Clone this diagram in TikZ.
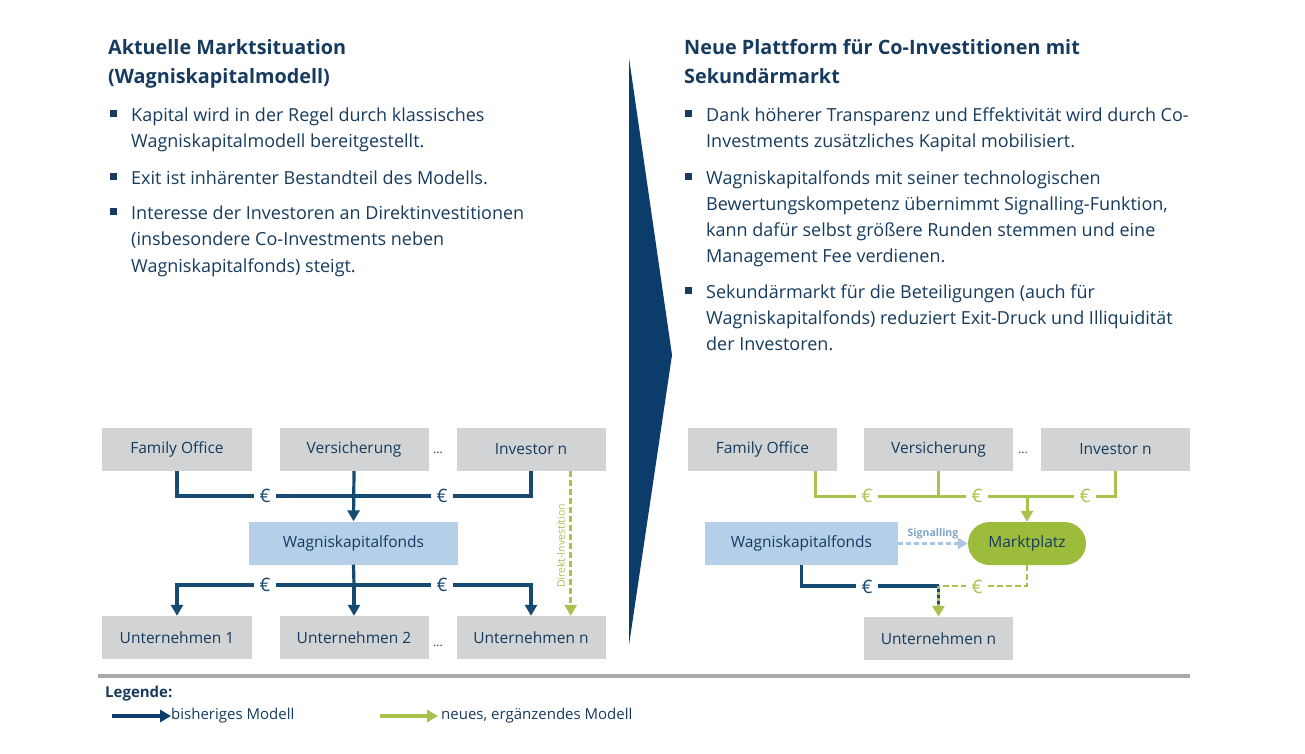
\documentclass[tikz,border=0pt]{standalone}
\usepackage{fontspec}
\setmainfont{Open Sans}
\usetikzlibrary{arrows.meta,calc}
\definecolor{navy}{HTML}{0B3C6B}
\definecolor{txt}{HTML}{163B5E}
\definecolor{boxgray}{HTML}{D1D3D4}
\definecolor{lblue}{HTML}{B4CFE7}
\definecolor{lgreen}{HTML}{A9C24E}
\definecolor{mgreen}{HTML}{9DBC3C}
\definecolor{sigblue}{HTML}{A9C6E2}
\definecolor{sigtxt}{HTML}{7FA4C8}
\definecolor{sepgray}{HTML}{A7A9AB}
\definecolor{linenavy}{HTML}{174A70}
\tikzset{
  box/.style={fill=boxgray, minimum width=149pt, minimum height=43pt, inner sep=0pt,
    font=\fontsize{15.5}{18}\selectfont, text=txt},
  fondbox/.style={fill=lblue, minimum height=43pt, inner sep=0pt,
    font=\fontsize{15.5}{18}\selectfont, text=txt},
  conn/.style={draw=linenavy, line width=3.2pt},
  gconn/.style={draw=lgreen, line width=3pt},
  gdash/.style={draw=lgreen, line width=2.6pt, dash pattern=on 6pt off 3pt},
  arr/.style={-{Triangle[width=12pt,length=11pt]}},
  eur/.style={fill=white, inner xsep=6pt, inner ysep=1pt, font=\fontsize{18.5}{20}\selectfont, text=linenavy},
  geur/.style={eur, text=lgreen},
  titletxt/.style={anchor=base west, inner sep=0pt, font=\fontsize{19.8}{24}\bfseries\selectfont, text=txt},
  bodytxt/.style={anchor=base west, inner sep=0pt, font=\fontsize{18}{22}\selectfont, text=txt},
  bul/.style={fill=txt, minimum size=7pt, inner sep=0pt},
  dotstxt/.style={inner sep=0pt, font=\fontsize{12}{14}\selectfont, text=txt},
}
\begin{document}
\begin{tikzpicture}[x=1pt,y=-1pt]
\useasboundingbox (0,0) rectangle (1305,753);

% ---------- left text ----------
\node[titletxt] (lt1) at (108,54) {Aktuelle Marktsituation};
\node[titletxt] (lt2) at (108,83) {(Wagniskapitalmodell)};
\node[bul] (lb1) at (113.5,113) {};
\node[bodytxt] (l1) at (131,121) {Kapital wird in der Regel durch klassisches};
\node[bodytxt] (l2) at (131,147) {Wagniskapitalmodell bereitgestellt.};
\node[bul] (lb2) at (113.5,176) {};
\node[bodytxt] (l3) at (131,184) {Exit ist inhärenter Bestandteil des Modells.};
\node[bul] (lb3) at (113.5,211) {};
\node[bodytxt] (l4) at (131,219) {Interesse der Investoren an Direktinvestitionen};
\node[bodytxt] (l5) at (131,245) {(insbesondere Co-Investments neben};
\node[bodytxt] (l6) at (131,272) {Wagniskapitalfonds) steigt.};

% ---------- right text ----------
\node[titletxt] (rt1) at (684,54) {Neue Plattform für Co-Investitionen mit};
\node[titletxt] (rt2) at (684,83) {Sekundärmarkt};
\node[bul] (rb1) at (688.5,113) {};
\node[bodytxt] (r1) at (706,121) {Dank höherer Transparenz und Effektivität wird durch Co-};
\node[bodytxt] (r2) at (706,147) {Investments zusätzliches Kapital mobilisiert.};
\node[bul] (rb2) at (688.5,176) {};
\node[bodytxt] (r3) at (706,184) {Wagniskapitalfonds mit seiner technologischen};
\node[bodytxt] (r4) at (706,210) {Bewertungskompetenz übernimmt Signalling-Funktion,};
\node[bodytxt] (r5) at (706,236) {kann dafür selbst größere Runden stemmen und eine};
\node[bodytxt] (r6) at (706,262) {Management Fee verdienen.};
\node[bul] (rb3) at (688.5,290) {};
\node[bodytxt] (r7) at (706,298) {Sekundärmarkt für die Beteiligungen (auch für};
\node[bodytxt] (r8) at (706,324) {Wagniskapitalfonds) reduziert Exit-Druck und Illiquidität};
\node[bodytxt] (r9) at (706,350) {der Investoren.};

% ---------- big arrow ----------
\fill[navy] (629,58) -- (672,355) -- (629,645) -- cycle;

% ---------- left diagram ----------
\node[box, minimum width=150pt] (fo1) at (177,449.5) {Family Office};
\node[box] (ve1) at (354,449.5) {Versicherung};
\node[box] (in1) at (531,449.5) {Investor n};
\node[dotstxt] (d1) at (438,453) {...};
\node[fondbox, minimum width=209pt] (wk1) at (353.5,543) {Wagniskapitalfonds};
\node[box, minimum width=150pt] (u11) at (177,637.5) {Unternehmen 1};
\node[box] (u21) at (354,637.5) {Unternehmen 2};
\node[box] (un1) at (531,637.5) {Unternehmen n};
\node[dotstxt] (d2) at (438,646) {...};

\coordinate (t1) at (354,496);
\coordinate (t2) at (354,585);
\draw[conn] (fo1.south) |- (t1) -| (in1.south);
\draw[conn,arr] (ve1.south) -- (wk1.north);
\node[eur] (e1) at (265,496) {€};
\node[eur] (e2) at (442,496) {€};
\draw[conn] (wk1.south) -- (t2);
\draw[conn,arr] (t2) -- (u21.north);
\draw[conn,arr] (t2) -| (u11.north);
\draw[conn,arr] (t2) -| (un1.north);
\node[eur] (e3) at (265,585) {€};
\node[eur] (e4) at (442,585) {€};

\coordinate (g1) at ($(in1.south east)+(-35,0)$);
\coordinate (g2) at ($(un1.north east)+(-35,0)$);
\draw[gdash,arr,draw=lgreen] (g1) -- (g2);
\node[rotate=90, inner sep=0pt, font=\fontsize{10.5}{12}\selectfont, text=lgreen] (dl) at (561,546) {Direkt-Investition};

% ---------- right diagram ----------
\node[box] (fo2) at (762.5,449.5) {Family Office};
\node[box] (ve2) at (938.5,449.5) {Versicherung};
\node[box] (in2) at (1115.5,449.5) {Investor n};
\node[dotstxt] (d3) at (1023,453) {...};
\node[fondbox, minimum width=193pt] (wk2) at (801.5,543.5) {Wagniskapitalfonds};
\node[fill=mgreen, minimum width=118pt, minimum height=43pt, inner sep=0pt, rounded corners=21.5pt,
  font=\fontsize{15.5}{18}\selectfont, text=txt] (mp2) at (1027,543.5) {Marktplatz};
\node[box] (un2) at (938.5,638.5) {Unternehmen n};

\coordinate (t3) at (1027,496);
\coordinate (t4) at (938.5,586);
\coordinate (fo2d) at ($(fo2.south)+(52.5,0)$);
\draw[gconn] (fo2d) |- (t3) -| (in2.south);
\draw[gconn] (ve2.south) -- (ve2.south |- t3);
\draw[gconn,arr] (t3) -- (mp2.north);
\node[geur] (e5) at (867,496) {€};
\node[geur] (e6) at (977,496) {€};
\node[geur] (e7) at (1085,496) {€};

\draw[draw=sigblue, line width=2.5pt, dash pattern=on 5pt off 3pt,
  -{Triangle[width=11pt,length=10pt]}] (wk2.east) -- (mp2.west)
  node[midway, above=3pt, inner sep=0pt, font=\fontsize{10.5}{12}\bfseries\selectfont, text=sigtxt] (sg) {Signalling};

\draw[conn] (wk2.south) |- (t4);
\draw[gdash] (mp2.south) |- (t4);
\node[eur] (e8) at (867,587) {€};
\node[geur] (e9) at (977,587) {€};
\draw[draw=lgreen, line width=3pt, dash pattern=on 3pt off 3pt, arr] (t4) -- (un2.north);
\draw[draw=linenavy, line width=3pt, dash pattern=on 3pt off 3pt, dash phase=3pt, shorten >=11pt] (t4) -- (un2.north);

% ---------- legend ----------
\coordinate (s1) at (98,676);
\coordinate (s2) at (1190,676);
\draw[sepgray, line width=4pt] (s1) -- (s2);
\node[anchor=base west, inner sep=0pt, font=\fontsize{15}{18}\bfseries\selectfont, text=txt] (leg) at (105,697) {Legende:};
\coordinate (la1) at (112,716);
\node[anchor=west, inner sep=0pt, font=\fontsize{15}{18}\selectfont, text=txt] (lg1) at (171,716) {bisheriges Modell};
\draw[draw=navy, line width=3.2pt, arr] (la1) -- (lg1.west);
\coordinate (la2) at (380,716);
\node[anchor=west, inner sep=0pt, font=\fontsize{15}{18}\selectfont, text=txt] (lg2) at (441,716) {neues, ergänzendes Modell};
\draw[draw=lgreen, line width=3.2pt, arr] (la2) -- ($(lg2.west)+(-3,0)$);
\end{tikzpicture}
\end{document}
